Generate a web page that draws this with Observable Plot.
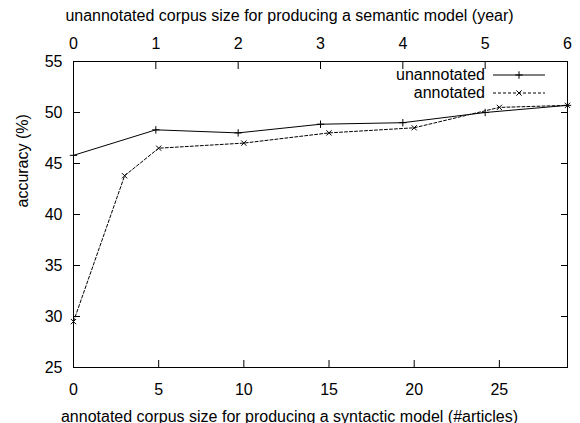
<!DOCTYPE html>
<html><head><meta charset="utf-8">
<script src="https://cdn.jsdelivr.net/npm/d3@7"></script>
<script src="https://cdn.jsdelivr.net/npm/@observablehq/plot@0.6"></script>
<style>body{margin:0;background:#fff}</style>
</head><body><div id="chart"></div>
<script>
// data
const years = [0, 1, 2, 3, 4, 5, 6];
const unannotated = [45.8, 48.3, 48.0, 48.85, 49.0, 50.0, 50.7];
const articles = [0, 3, 5, 10, 15, 20, 25, 29];
const annotated = [29.5, 43.8, 46.5, 47.0, 48.0, 48.5, 50.5, 50.7];
const yTicks = [25, 30, 35, 40, 45, 50, 55];
const articleTicks = [0, 5, 10, 15, 20, 25];
const yearTicks = [0, 1, 2, 3, 4, 5, 6];
const articleMax = 29, yearMax = 6;
const topTitle = "unannotated corpus size for producing a semantic model (year)";
const bottomTitle = "annotated corpus size for producing a syntactic model (#articles)";
const yTitle = "accuracy (%)";
const seriesNames = ["unannotated", "annotated"];

const k = articleMax / yearMax; // year -> shared x scale
const unData = years.map((v, i) => ({x: v * k, y: unannotated[i]}));
const anData = articles.map((v, i) => ({x: v, y: annotated[i]}));

const font = "'Liberation Sans', Arial, sans-serif";
const fs = 16;
const chart = Plot.plot({
  width: 580, height: 423,
  marginLeft: 73, marginRight: 13, marginTop: 61, marginBottom: 56,
  style: {fontFamily: font, fontSize: fs + "px", background: "white", color: "black"},
  x: {domain: [0, articleMax]},
  y: {domain: [25, 55]},
  marks: [
    Plot.axisX(articleTicks, {anchor: "bottom", tickSize: -7, tickPadding: 23, label: null, fontSize: fs}),
    Plot.axisX(yearTicks.map(v => v * k), {anchor: "top", tickSize: -7, tickPadding: 20, label: null, fontSize: fs, tickFormat: d => String(Math.round(d / k))}),
    Plot.axisY(yTicks, {anchor: "left", tickSize: -7, tickPadding: 18, label: null, fontSize: fs}),
    Plot.axisY(yTicks, {anchor: "right", tickSize: -7, label: null, tickFormat: () => ""}),
    Plot.text([topTitle], {frameAnchor: "top", dy: -52, dx: -31, text: d => d, fontSize: fs}),
    Plot.text([bottomTitle], {frameAnchor: "bottom", dy: 54, dx: -31, text: d => d, fontSize: fs}),
    Plot.text([yTitle], {frameAnchor: "left", rotate: -90, dx: -51, dy: -7, text: d => d, fontSize: fs}),
    Plot.line(unData, {x: "x", y: "y", stroke: "black", strokeWidth: 1}),
    Plot.dot(unData, {x: "x", y: "y", symbol: "plus", r: 2.5, stroke: "black", strokeWidth: 1}),
    Plot.line(anData, {x: "x", y: "y", stroke: "black", strokeWidth: 1, strokeDasharray: "3,2"}),
    Plot.dot(anData, {x: "x", y: "y", symbol: "times", r: 2.5, stroke: "black", strokeWidth: 1}),
    Plot.frame({stroke: "black", strokeWidth: 1})
  ]
});

// key (inside top-right of frame, gnuplot style)
const svg = d3.select(chart);
const key = svg.append("g").attr("font-family", font).attr("font-size", fs);
const rows = [{name: seriesNames[0], dash: null, sym: d3.symbolPlus}, {name: seriesNames[1], dash: "3,2", sym: d3.symbolTimes}];
rows.forEach((r, i) => {
  const yy = 75 + i * 18;
  key.append("text").attr("x", 485).attr("y", yy).attr("dy", "0.32em").attr("text-anchor", "end").text(r.name);
  key.append("line").attr("x1", 493).attr("x2", 545).attr("y1", yy).attr("y2", yy)
    .attr("stroke", "black").attr("stroke-dasharray", r.dash);
  key.append("path").attr("transform", `translate(519,${yy})`)
    .attr("d", d3.symbol(r.sym, 20)()).attr("fill", "none").attr("stroke", "black");
});
document.getElementById("chart").appendChild(chart);
</script>
</body></html>
